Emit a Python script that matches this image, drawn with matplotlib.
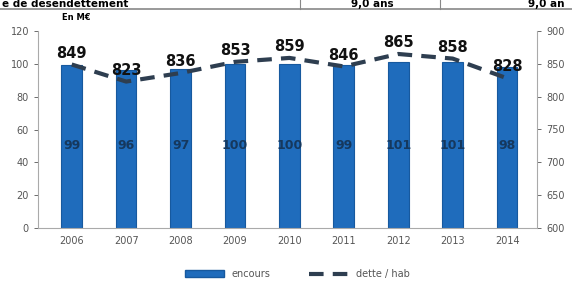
import matplotlib.pyplot as plt
from matplotlib.lines import Line2D
from matplotlib.patches import Patch

# data
years = ["2006", "2007", "2008", "2009", "2010", "2011", "2012", "2013", "2014"]
encours = [99, 96, 97, 100, 100, 99, 101, 101, 98]
dette_hab = [849, 823, 836, 853, 859, 846, 865, 858, 828]

W, H = 572, 282
fig = plt.figure(figsize=(W / 100, H / 100), dpi=100)
ax = fig.add_axes([38 / W, 1 - 228 / H, (537 - 38) / W, (228 - 31) / H])
ax2 = ax.twinx()

x = list(range(len(years)))
ax.bar(x, encours, width=0.38, color="#1f6cbc", edgecolor="#17599e", linewidth=0.8, zorder=2)
for xi, v in zip(x, encours):
    ax.text(xi, 50, str(v), ha="center", va="center", fontsize=9, fontweight="bold", color="#15385e", zorder=3)

ax.set_ylim(0, 120)
ax.set_yticks(range(0, 121, 20))
ax.set_xlim(-0.62, 8.55)
ax.set_xticks(x)
ax.set_xticklabels(years)

ax2.plot(x, dette_hab, color="#2e3e50", lw=3, dashes=(3.5, 2.2), zorder=4)
for xi, v in zip(x, dette_hab):
    ax2.text(xi, v + 6, str(v), ha="center", va="bottom", fontsize=10.5, fontweight="bold", color="#111111")
ax2.set_ylim(600, 900)
ax2.set_yticks(range(600, 901, 50))

for a in (ax, ax2):
    for s in a.spines.values():
        s.set_visible(False)
    a.tick_params(labelsize=7, colors="#555555", length=3, width=0.6)
ax.spines["left"].set_visible(True)
ax.spines["left"].set_color("#aaaaaa")
ax.spines["bottom"].set_visible(True)
ax.spines["bottom"].set_color("#aaaaaa")
ax2.spines["right"].set_visible(True)
ax2.spines["right"].set_color("#aaaaaa")
ax.tick_params(axis="x", length=0, pad=6)

fig.text(62 / W, 1 - 17 / H, "En M€", fontsize=6, fontweight="bold", va="center")

# header of the table above (cropped in the source)
fig.text(2 / W, 1 - 4 / H, "e de désendettement", fontsize=7.5, fontweight="bold", va="center")
fig.text(372 / W, 1 - 4 / H, "9,0 ans", fontsize=7.5, fontweight="bold", va="center", ha="center")
fig.text(528 / W, 1 - 4 / H, "9,0 an", fontsize=7.5, fontweight="bold", va="center")
fig.add_artist(Line2D([0, 1], [1 - 9 / H, 1 - 9 / H], color="#888888", lw=1.2))
fig.add_artist(Line2D([300 / W, 300 / W], [1 - 9 / H, 1], color="#888888", lw=0.8))
fig.add_artist(Line2D([440 / W, 440 / W], [1 - 9 / H, 1], color="#888888", lw=0.8))

handles = [Patch(facecolor="#1f6cbc", edgecolor="#17599e"),
           Line2D([], [], color="#2e3e50", lw=3, dashes=(3.5, 2.2))]
fig.legend(handles, ["encours", "dette / hab"], loc="center", bbox_to_anchor=(0.52, 1 - 274 / H),
           ncol=2, frameon=False, fontsize=7, handlelength=4, columnspacing=4,
           labelcolor="#555555")

fig.savefig("out.png", dpi=100)
